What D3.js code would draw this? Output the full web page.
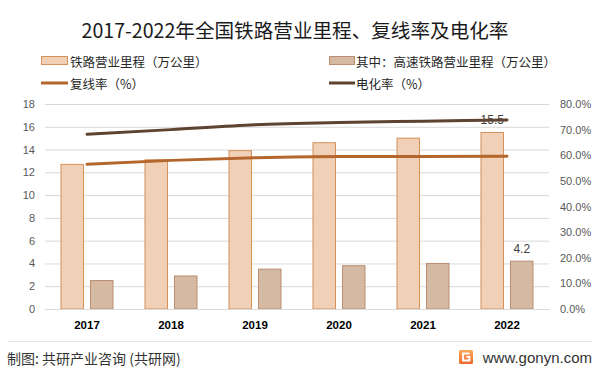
<!DOCTYPE html>
<html><head><meta charset="utf-8">
<script src="https://cdn.jsdelivr.net/npm/d3@7"></script>
<style>
html,body{margin:0;padding:0;background:#fff;}
svg{display:block;}
</style></head>
<body>
<script>
const years = ["2017","2018","2019","2020","2021","2022"];
const railMileage = [12.7, 13.1, 13.9, 14.6, 15.0, 15.5];
const hsrMileage = [2.5, 2.9, 3.5, 3.8, 4.0, 4.2];
const doubleTrackRate = [56.5, 58.0, 59.0, 59.5, 59.5, 59.6];
const electrificationRate = [68.2, 70.0, 71.9, 72.8, 73.3, 73.8];
const leftTicks = [0,2,4,6,8,10,12,14,16,18];
const rightTicks = [0,10,20,30,40,50,60,70,80];
const seriesNames = ["铁路营业里程（万公里）","其中：高速铁路营业里程（万公里）","复线率（%）","电化率（%）"];
const titleText = "2017-2022年全国铁路营业里程、复线率及电化率";
const sourceText = "制图: 共研产业咨询 (共研网)";
const siteText = "www.gonyn.com";

const W = 602, H = 373;
const svg = d3.select("body").append("svg").attr("width", W).attr("height", H);
const cjk = "'Noto Sans CJK SC','Noto Sans',sans-serif";
const latin = "'Liberation Sans',Arial,sans-serif";

const plot = {left: 45, right: 549, top: 104, bottom: 309};
const x = d3.scaleBand().domain(years).range([plot.left, plot.right]).paddingInner(0).paddingOuter(0);
const x1 = d3.scaleBand().domain(["a","b"]).range([0, x.bandwidth()]).paddingInner(0.237).paddingOuter(0.542);
const yL = d3.scaleLinear().domain([0,18]).range([plot.bottom, plot.top]);
const yR = d3.scaleLinear().domain([0,80]).range([plot.bottom, plot.top]);

const colors = {
  bar1: "#F0D1B7", bar1s: "#D4915A",
  bar2: "#D5B9A3", bar2s: "#B98E72",
  line1: "#B5662C", line2: "#5E4331"
};

// title
svg.append("text").attr("x", 295).attr("y", 38).attr("text-anchor","middle")
  .attr("font-family", cjk).attr("font-size", 19.6).attr("fill","#1a1a1a").text(titleText);

// legend
const lg = svg.append("g");
lg.append("rect").attr("x",41.5).attr("y",56.5).attr("width",26).attr("height",8)
  .attr("fill",colors.bar1).attr("stroke",colors.bar1s);
lg.append("rect").attr("x",329.5).attr("y",56.5).attr("width",25).attr("height",8)
  .attr("fill",colors.bar2).attr("stroke",colors.bar2s);
lg.append("line").attr("x1",41).attr("x2",68).attr("y1",83).attr("y2",83)
  .attr("stroke",colors.line1).attr("stroke-width",3);
lg.append("line").attr("x1",329).attr("x2",355).attr("y1",83).attr("y2",83)
  .attr("stroke",colors.line2).attr("stroke-width",3);
const legPos = [[70,61],[356,61],[70,83],[356,83]];
seriesNames.forEach((n,i)=>{
  lg.append("text").attr("x",legPos[i][0]).attr("y",legPos[i][1]).attr("dominant-baseline","central")
    .attr("font-family",cjk).attr("font-size",12.5).attr("fill","#262626").text(n);
});

// gridlines + left axis
const yAxisL = d3.axisLeft(yL).tickValues(leftTicks).tickSize(-(plot.right-plot.left)).tickPadding(10).tickFormat(d3.format("d"));
const gL = svg.append("g").attr("transform",`translate(${plot.left},0)`).call(yAxisL);
gL.select(".domain").remove();
gL.selectAll(".tick line").attr("stroke","#D9D9D9").attr("stroke-width",1);
gL.selectAll(".tick text").attr("font-family",latin).attr("font-size",11).attr("fill","#595959");

const yAxisR = d3.axisRight(yR).tickValues(rightTicks).tickSize(0).tickPadding(11).tickFormat(d=>d.toFixed(1)+"%");
const gR = svg.append("g").attr("transform",`translate(${plot.right},0)`).call(yAxisR);
gR.select(".domain").remove();
gR.selectAll(".tick text").attr("font-family",latin).attr("font-size",11).attr("fill","#595959");

// bars
const bars = svg.append("g");
bars.selectAll("rect.b1").data(years).join("rect").attr("class","b1")
  .attr("x",d=>x(d)+x1("a")).attr("width",x1.bandwidth())
  .attr("y",(d,i)=>yL(railMileage[i])).attr("height",(d,i)=>yL(0)-yL(railMileage[i]))
  .attr("fill",colors.bar1).attr("stroke",colors.bar1s).attr("stroke-width",1);
bars.selectAll("rect.b2").data(years).join("rect").attr("class","b2")
  .attr("x",d=>x(d)+x1("b")).attr("width",x1.bandwidth())
  .attr("y",(d,i)=>yL(hsrMileage[i])).attr("height",(d,i)=>yL(0)-yL(hsrMileage[i]))
  .attr("fill",colors.bar2).attr("stroke",colors.bar2s).attr("stroke-width",1);

// x axis
const xAxis = d3.axisBottom(x).tickSize(0).tickPadding(12);
const gX = svg.append("g").attr("transform",`translate(0,${plot.bottom})`).call(xAxis);
gX.select(".domain").attr("stroke","#D9D9D9");
gX.selectAll(".tick text").attr("font-family",latin).attr("font-size",11.5).attr("font-weight","bold").attr("fill","#000");

// data labels (2022)
const last = years.length-1;
svg.append("text").attr("x", x(years[last])+x1("a")+x1.bandwidth()/2).attr("y", yL(railMileage[last])-8)
  .attr("text-anchor","middle").attr("font-family",latin).attr("font-size",12).attr("fill","#404040")
  .text(railMileage[last].toFixed(1));
svg.append("text").attr("x", x(years[last])+x1("b")+x1.bandwidth()/2).attr("y", yL(hsrMileage[last])-8)
  .attr("text-anchor","middle").attr("font-family",latin).attr("font-size",12).attr("fill","#404040")
  .text(hsrMileage[last].toFixed(1));

// lines
const cx = d => x(d) + x.bandwidth()/2;
const line = d3.line().x(d=>cx(d[0])).y(d=>yR(d[1])).curve(d3.curveMonotoneX);
svg.append("path").datum(years.map((y,i)=>[y,doubleTrackRate[i]])).attr("d",line)
  .attr("fill","none").attr("stroke",colors.line1).attr("stroke-width",3).attr("stroke-linecap","round");
svg.append("path").datum(years.map((y,i)=>[y,electrificationRate[i]])).attr("d",line)
  .attr("fill","none").attr("stroke",colors.line2).attr("stroke-width",3).attr("stroke-linecap","round");

// footer
svg.append("line").attr("x1",8).attr("x2",592).attr("y1",341.5).attr("y2",341.5).attr("stroke","#E6E6E6");
svg.append("text").attr("x",7).attr("y",358).attr("dominant-baseline","central")
  .attr("font-family",cjk).attr("font-size",14).attr("fill","#333").text(sourceText);
svg.append("text").attr("x",592).attr("y",357).attr("dominant-baseline","central").attr("text-anchor","end")
  .attr("font-family",latin).attr("font-size",15).attr("fill","#333").text(siteText);
const defs = svg.append("defs");
const grad = defs.append("linearGradient").attr("id","lg").attr("x1",0).attr("y1",0).attr("x2",0).attr("y2",1);
grad.append("stop").attr("offset","0").attr("stop-color","#F7A859");
grad.append("stop").attr("offset","1").attr("stop-color","#EE6A30");
svg.append("rect").attr("x",459).attr("y",350).attr("width",14).attr("height",14).attr("rx",1.5).attr("fill","url(#lg)");
svg.append("path").attr("d","M469.5,353.5 H463 V360.5 H469.5 V357 H466.5").attr("fill","none").attr("stroke","#fff").attr("stroke-width",1.8);
</script>
</body></html>
